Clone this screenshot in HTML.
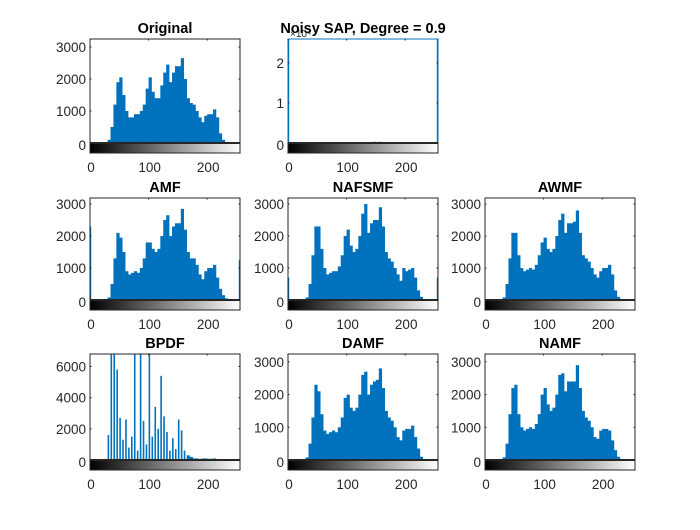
<!DOCTYPE html>
<html><head><meta charset="utf-8"><style>
body{margin:0;background:#fff;width:700px;height:525px;overflow:hidden}
svg text{font-family:"Liberation Sans",sans-serif;fill:#262626}
</style></head><body>
<svg id="fig" width="700" height="525">
<defs><linearGradient id="gray" x1="0" x2="1" y1="0" y2="0"><stop offset="0" stop-color="#000"/><stop offset="1" stop-color="#fff"/></linearGradient></defs>
</svg>
<script>
const binStarts = Array.from({length:52},(_, i)=>i*5);
const original = [0,0,0,0,0,0,100,500,1200,1900,2050,1500,1000,800,800,900,900,1000,1200,1700,2050,1600,1400,1400,1800,2200,2450,1900,2200,2400,2400,2650,2000,1400,1250,1200,1000,800,650,850,900,900,1050,800,300,100,30,0,0,0,0,0];
const amf = [2300,0,0,0,0,0,80,500,1300,2100,1950,1500,900,800,850,900,850,1000,1300,1800,1800,1600,1500,1600,2000,2500,2650,2000,2300,2400,2400,2850,2200,1500,1300,1300,1100,800,650,900,1000,1000,1100,700,350,150,50,0,0,0,0,1250];
const nafsmf = [700,0,0,0,0,0,80,500,1400,2300,2300,1600,1000,800,850,900,900,1050,1400,2000,2200,1700,1500,1600,2000,2700,3000,2100,2400,2500,2500,2900,2300,1500,1300,1200,1000,800,600,1000,900,950,1000,700,300,100,30,0,0,0,0,700];
const awmf = [0,0,0,0,0,0,80,500,1300,2100,2100,1400,1000,900,950,1000,950,1100,1400,1800,1950,1600,1500,1600,2000,2500,2700,2100,2400,2400,2450,2800,2100,1400,1300,1200,1000,800,700,900,1000,1000,1100,800,300,100,30,0,0,0,0,0];
const bpdf = [0,0,0,0,0,0,1600,6800,6800,5800,2700,1300,2600,800,1500,6800,600,6800,2500,1000,6800,1500,3400,2000,5400,2800,1800,600,1400,700,2600,1900,600,300,200,100,100,50,100,100,80,80,100,60,40,0,0,0,0,0,0,0];
const damf = [0,0,0,0,0,0,80,500,1300,2300,2100,1400,900,800,850,900,850,1000,1300,1900,2000,1600,1500,1600,2000,2600,2700,2000,2300,2400,2450,2800,2200,1500,1300,1200,1000,700,600,900,950,950,1050,700,350,100,30,0,0,0,0,0];
const namf = [0,0,0,0,0,0,80,500,1400,2200,2300,1400,1000,900,950,1000,950,1100,1400,2000,2200,1700,1500,1600,2000,2600,2650,2100,2400,2400,2400,2900,2200,1500,1300,1200,1000,700,650,900,950,950,900,600,300,100,30,0,0,0,0,0];
const noisy = [2.6,0,0,0,0,0,0,0,0,0,0,0,0,0,0,0,0,0,0,0,0,0,0,0,0.01,0.02,0.02,0.02,0.02,0.03,0.02,0.03,0.01,0,0,0,0,0,0,0,0,0,0,0,0,0,0,0,0,0,0,2.6];
const xTicks = [0,100,200];
const yTicks3000 = [0,1000,2000,3000];
const yTicksBpdf = [0,2000,4000,6000];
const yTicksNoisy = [0,1,2];

const NS="http://www.w3.org/2000/svg";
const svg=document.getElementById('fig');
function mk(tag,attrs,parent){const e=document.createElementNS(NS,tag);for(const k in attrs)e.setAttribute(k,attrs[k]);(parent||svg).appendChild(e);return e;}

const panels=[
 {name:'original',title:'Original',x0:90,top:39,zero:143,ymax:3250,data:original,ticks:yTicks3000},
 {name:'noisy',title:'Noisy SAP, Degree = 0.9',x0:288,top:39,zero:143,ymax:2.6,data:noisy,ticks:yTicksNoisy,exp:true},
 {name:'amf',title:'AMF',x0:90,top:198,zero:300,ymax:3190,data:amf,ticks:yTicks3000},
 {name:'nafsmf',title:'NAFSMF',x0:288,top:198,zero:300,ymax:3190,data:nafsmf,ticks:yTicks3000},
 {name:'awmf',title:'AWMF',x0:485,top:198,zero:300,ymax:3190,data:awmf,ticks:yTicks3000},
 {name:'bpdf',title:'BPDF',x0:90,top:354,zero:460,ymax:6800,data:bpdf,ticks:yTicksBpdf,thin:true},
 {name:'damf',title:'DAMF',x0:288,top:354,zero:460,ymax:3240,data:damf,ticks:yTicks3000},
 {name:'namf',title:'NAMF',x0:485,top:354,zero:460,ymax:3240,data:namf,ticks:yTicks3000}
];
const W=150;
panels.forEach(p=>{
 const g=mk('g',{});
 
 
 const xs=v=>p.x0+v/256*W;
 const ys=v=>p.zero-Math.min(v,p.ymax)/p.ymax*(p.zero-p.top);
 mk('rect',{x:p.x0,y:p.top,width:W,height:p.zero-p.top,fill:'#fff'},g);
 p.data.forEach((v,i)=>{
  if(v<=0)return;
  let x=xs(binStarts[i]),w=xs(binStarts[i]+5)-x+0.3;
  if(p.thin && v>300){w=1.6;}
  if(i===0||i===51){w=1.2; if(i===51)x=p.x0+W-1.2;}
  const r=mk('rect',{x:x,y:ys(v),width:w,height:p.zero-ys(v),fill:'#0072BD'},g);
  
  
 });
 mk('rect',{x:p.x0,y:p.top,width:W,height:p.zero-p.top,fill:'none',stroke:p.exp?'#0072BD':'#262626','stroke-width':1},g);
 const cb=mk('rect',{x:p.x0,y:p.zero,width:W,height:10,fill:'url(#gray)',stroke:'#262626','stroke-width':1},g);
 
 
 mk('line',{x1:p.x0,x2:p.x0+W,y1:p.zero,y2:p.zero,stroke:'#262626','stroke-width':2},g);
 xTicks.forEach(t=>{
  const tx=mk('text',{x:xs(t)+1,y:p.zero+29,'font-size':13.5,'text-anchor':'middle'},g);tx.textContent=t;
  
  
  mk('line',{x1:xs(t),x2:xs(t),y1:p.top,y2:p.top+1.5,stroke:'#262626'},g);
 });
 p.ticks.forEach(t=>{
  const y=t===0?p.zero+2:ys(t);
  const tx=mk('text',{x:p.x0-4,y:y+5,'font-size':13.5,'text-anchor':'end'},g);tx.textContent=t;
  
  
  if(t>0){mk('line',{x1:p.x0,x2:p.x0+1.5,y1:y,y2:y,stroke:'#262626'},g);mk('line',{x1:p.x0+W-1.5,x2:p.x0+W,y1:y,y2:y,stroke:'#262626'},g);}
 });
 if(p.exp){const e=mk('text',{x:p.x0+2,y:p.top-2,'font-size':10},g);e.textContent='×10⁴';
  }
 const tt=mk('text',{x:p.x0+W/2,y:p.top-6,'font-size':14.5,'font-weight':'bold','text-anchor':'middle',style:'fill:#000'},g);tt.textContent=p.title;
 
 
});
</script>
</body></html>
